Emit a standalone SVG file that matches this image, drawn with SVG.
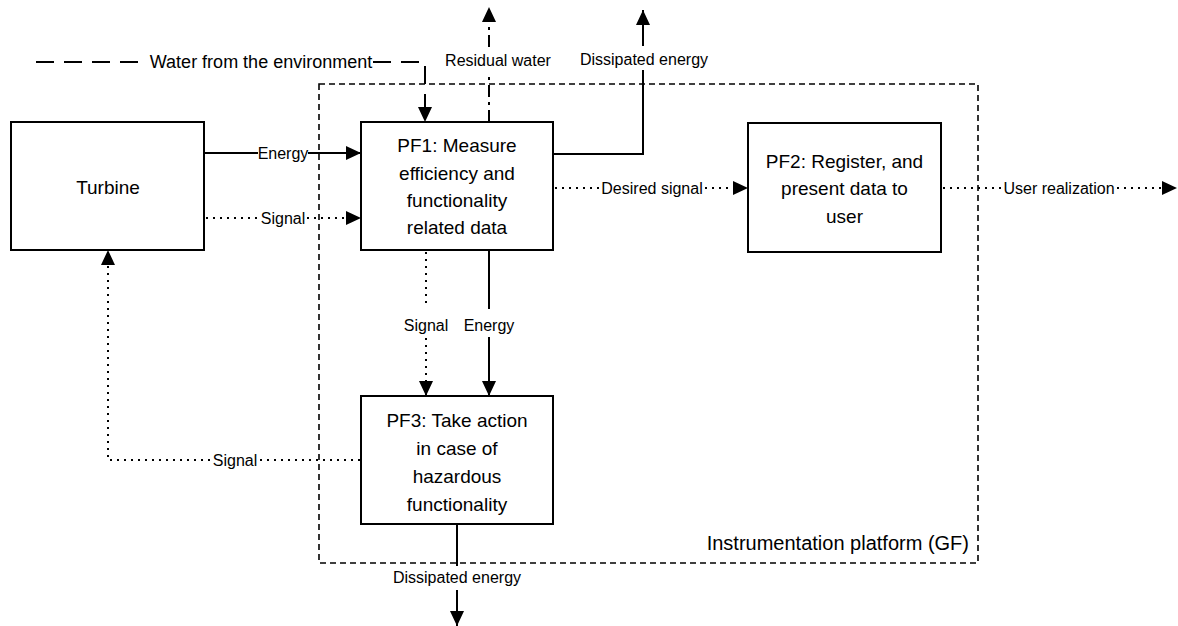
<svg xmlns="http://www.w3.org/2000/svg" width="1178" height="626" viewBox="0 0 1178 626">
  <style>
    .box { fill: #ffffff; stroke: #000000; stroke-width: 2; }
    .frame { fill: none; stroke: #000000; stroke-width: 1.6; stroke-dasharray: 6 4; }
    .flow { fill: none; stroke: #000000; stroke-width: 2; }
    .sig { fill: none; stroke: #000000; stroke-width: 2; stroke-dasharray: 2 5; }
    .water { fill: none; stroke: #000000; stroke-width: 2; stroke-dasharray: 18 10; }
    .resid { fill: none; stroke: #000000; stroke-width: 2; stroke-dasharray: 12 5 3 5; }
    .title { font-family: "Liberation Sans", Arial, sans-serif; font-size: 19px; fill: #000000; text-anchor: middle; }
    .lbl { font-family: "Liberation Sans", Arial, sans-serif; font-size: 16px; fill: #000000; text-anchor: middle; }
  </style>
  <defs>
    <marker id="arrow" viewBox="0 0 15 14" refX="15" refY="7" markerWidth="15" markerHeight="14" markerUnits="userSpaceOnUse" orient="auto">
      <path d="M0 0 L15 7 L0 14 Z" fill="#000000"/>
    </marker>
  </defs>

  <rect width="1178" height="626" fill="#ffffff"/>

  <!-- system boundary -->
  <g id="platform">
    <rect class="frame" x="319" y="84" width="659" height="479"/>
    <text x="969" y="550" font-family="Liberation Sans, Arial, sans-serif" font-size="20" text-anchor="end">Instrumentation platform (GF)</text>
  </g>

  <!-- connectors -->
  <g id="connectors">
    <!-- water inflow -->
    <path class="water" d="M36 62 H146"/>
    <path class="water" d="M373 62 H425 V122" marker-end="url(#arrow)"/>
    <text x="261" y="68" font-family="Liberation Sans, Arial, sans-serif" font-size="18" text-anchor="middle">Water from the environment</text>

    <!-- residual water -->
    <path class="resid" d="M489 122 V72"/>
    <path class="resid" d="M489 47 V7" marker-end="url(#arrow)"/>
    <text class="lbl" x="498" y="66">Residual water</text>

    <!-- dissipated energy from PF1 -->
    <path class="flow" d="M553 154 H643 V70"/>
    <path class="flow" d="M643 46 V10" marker-end="url(#arrow)"/>
    <text class="lbl" x="644" y="65">Dissipated energy</text>

    <!-- turbine energy to PF1 -->
    <path class="flow" d="M204 153 H258"/>
    <path class="flow" d="M308 153 H361" marker-end="url(#arrow)"/>
    <text class="lbl" x="283" y="159">Energy</text>

    <!-- turbine signal to PF1 -->
    <path class="sig" d="M206 218 H259"/>
    <path class="sig" d="M307 218 H361" marker-end="url(#arrow)"/>
    <text class="lbl" x="283" y="224">Signal</text>

    <!-- desired signal PF1 to PF2 -->
    <path class="sig" d="M555 188 H600"/>
    <path class="sig" d="M705 188 H748" marker-end="url(#arrow)"/>
    <text class="lbl" x="652" y="194">Desired signal</text>

    <!-- user realization -->
    <path class="sig" d="M943 188 H1002"/>
    <path class="sig" d="M1117 188 H1177" marker-end="url(#arrow)"/>
    <text class="lbl" x="1059" y="194">User realization</text>

    <!-- PF1 to PF3 signal -->
    <path class="sig" d="M426 252 V308"/>
    <path class="sig" d="M426 338 V396" marker-end="url(#arrow)"/>
    <text class="lbl" x="426" y="331">Signal</text>

    <!-- PF1 to PF3 energy -->
    <path class="flow" d="M489 250 V309"/>
    <path class="flow" d="M489 337 V396" marker-end="url(#arrow)"/>
    <text class="lbl" x="489" y="331">Energy</text>

    <!-- PF3 signal back to turbine -->
    <path class="sig" d="M360 460 H260"/>
    <path class="sig" d="M210 460 H108 V250" marker-end="url(#arrow)"/>
    <text class="lbl" x="235" y="466">Signal</text>

    <!-- dissipated energy from PF3 -->
    <path class="flow" d="M457 524 V566"/>
    <path class="flow" d="M457 590 V626" marker-end="url(#arrow)"/>
    <text class="lbl" x="457" y="583">Dissipated energy</text>
  </g>

  <!-- nodes -->
  <g id="turbine">
    <rect class="box" x="11" y="122" width="193" height="128"/>
    <text class="title" x="108" y="194">Turbine</text>
  </g>

  <g id="pf1">
    <rect class="box" x="361" y="122" width="192" height="128"/>
    <text class="title" x="457" y="152">PF1: Measure</text>
    <text class="title" x="457" y="180">efficiency and</text>
    <text class="title" x="457" y="207">functionality</text>
    <text class="title" x="457" y="234">related data</text>
  </g>

  <g id="pf2">
    <rect class="box" x="748" y="123" width="193" height="129"/>
    <text class="title" x="844.5" y="168">PF2: Register, and</text>
    <text class="title" x="844.5" y="195">present data to</text>
    <text class="title" x="844.5" y="223">user</text>
  </g>

  <g id="pf3">
    <rect class="box" x="361" y="396" width="192" height="128"/>
    <text class="title" x="457" y="427">PF3: Take action</text>
    <text class="title" x="457" y="455">in case of</text>
    <text class="title" x="457" y="483">hazardous</text>
    <text class="title" x="457" y="511">functionality</text>
  </g>
</svg>
